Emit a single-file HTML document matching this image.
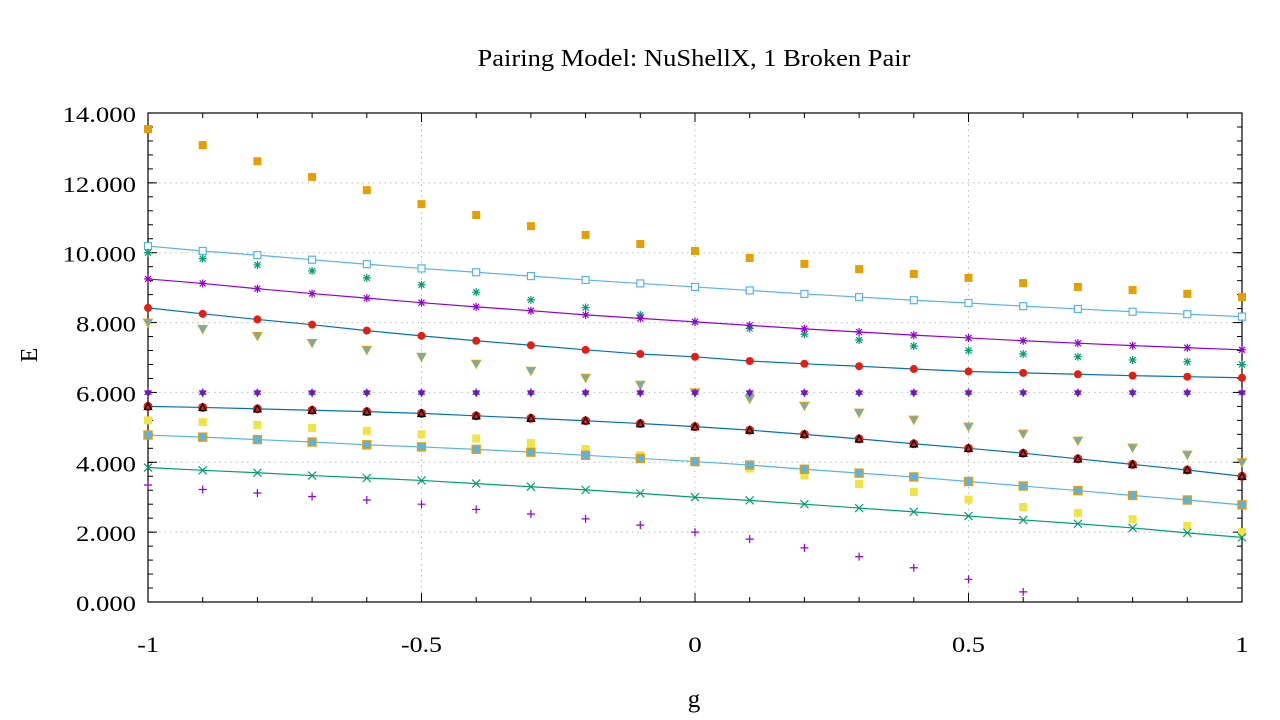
<!DOCTYPE html>
<html><head><meta charset="utf-8"><style>
body{margin:0;background:#fff}
svg{display:block;font-family:"Liberation Serif",serif}
</style></head><body>
<svg id="chart" width="1280" height="720" xmlns="http://www.w3.org/2000/svg">
<text x="694" y="66" text-anchor="middle" font-size="24" textLength="433" lengthAdjust="spacingAndGlyphs">Pairing Model: NuShellX, 1 Broken Pair</text>
<text transform="translate(37,355) rotate(-90)" text-anchor="middle" font-size="24">E</text>
<text x="694" y="707" text-anchor="middle" font-size="25">g</text>
<g id="grid"></g><g id="axes"></g><g id="series"></g>
</svg>
<script>
const gValues=[-1,-0.9,-0.8,-0.7,-0.6,-0.5,-0.4,-0.3,-0.2,-0.1,0,0.1,0.2,0.3,0.4,0.5,0.6,0.7,0.8,0.9,1];
const yTickLabels=["0.000","2.000","4.000","6.000","8.000","10.000","12.000","14.000"];
const xTickLabels=["-1","-0.5","0","0.5","1"];
const sOrangeSq=[13.54,13.08,12.62,12.17,11.79,11.39,11.08,10.76,10.51,10.25,10.05,9.85,9.68,9.53,9.39,9.28,9.13,9.02,8.93,8.82,8.73];
const sBlueOpen=[10.19,10.05,9.93,9.8,9.67,9.55,9.44,9.33,9.22,9.12,9.02,8.92,8.82,8.73,8.64,8.56,8.47,8.39,8.31,8.24,8.17];
const sGreenStar=[10.0,9.83,9.65,9.48,9.28,9.08,8.87,8.65,8.43,8.22,8.02,7.83,7.67,7.5,7.33,7.2,7.1,7.02,6.93,6.88,6.8];
const sPurpleStar=[9.25,9.12,8.97,8.83,8.70,8.57,8.45,8.34,8.22,8.12,8.02,7.92,7.82,7.73,7.64,7.56,7.48,7.41,7.34,7.28,7.22];
const sRedCircle=[8.42,8.25,8.09,7.94,7.77,7.62,7.48,7.35,7.22,7.1,7.02,6.9,6.82,6.75,6.67,6.6,6.56,6.52,6.48,6.45,6.42];
const sTriDown=[8.0,7.82,7.62,7.42,7.22,7.02,6.82,6.62,6.42,6.22,6.0,5.82,5.62,5.42,5.22,5.02,4.82,4.62,4.42,4.22,4.0];
const sConst6=[6,6,6,6,6,6,6,6,6,6,6,6,6,6,6,6,6,6,6,6,6];
const sRedTri=[5.6,5.57,5.53,5.49,5.45,5.4,5.33,5.26,5.19,5.11,5.02,4.92,4.8,4.67,4.53,4.4,4.26,4.1,3.94,3.78,3.6];
const sYellowSq=[5.2,5.15,5.07,4.98,4.9,4.8,4.68,4.55,4.38,4.2,4.0,3.82,3.62,3.38,3.15,2.93,2.72,2.55,2.37,2.18,2.0];
const sOrangeOpen=[4.78,4.72,4.65,4.58,4.5,4.44,4.37,4.29,4.2,4.11,4.02,3.92,3.8,3.69,3.58,3.45,3.32,3.19,3.05,2.92,2.78];
const sGreenX=[3.85,3.77,3.7,3.62,3.55,3.48,3.39,3.3,3.21,3.11,3.0,2.91,2.8,2.69,2.58,2.46,2.35,2.24,2.12,1.98,1.85];
const sPurplePlus=[3.35,3.22,3.12,3.02,2.92,2.8,2.65,2.52,2.38,2.2,2.0,1.8,1.55,1.3,0.98,0.65,0.29];

const NS="http://www.w3.org/2000/svg";
const L=148,R=1242,T=113,B=602,YMAX=14;
const xs=g=>L+(g+1)/2*(R-L);
const ys=v=>B-v/YMAX*(B-T);
function mk(tag,attrs,parent){const e=document.createElementNS(NS,tag);for(const k in attrs)e.setAttribute(k,attrs[k]);parent.appendChild(e);return e;}
function labW(s){let w=0;for(const c of s){w+=c==='.'?6:(c==='-'?8:13.5);}return w;}
const grid=document.getElementById('grid'),axes=document.getElementById('axes'),ser=document.getElementById('series');

yTickLabels.forEach((lab,i)=>{const v=parseFloat(lab);const y=ys(v);
 if(i>0&&i<yTickLabels.length-1){const gl=mk('line',{x1:L,x2:R,y1:y,y2:y,stroke:'#bbb','stroke-dasharray':'1.5,4'},grid);
 }
 const t=mk('text',{x:136,y:y+9,'text-anchor':'end','font-size':'22',textLength:labW(lab),lengthAdjust:'spacingAndGlyphs'},axes);t.textContent=lab;
 
 mk('line',{x1:L,x2:L+9,y1:y,y2:y,stroke:'#000'},axes);mk('line',{x1:R,x2:R-9,y1:y,y2:y,stroke:'#000'},axes);});
for(let v=0;v<=YMAX+0.001;v+=0.4){const y=ys(v);mk('line',{x1:L,x2:L+5,y1:y,y2:y,stroke:'#000'},axes);mk('line',{x1:R,x2:R-5,y1:y,y2:y,stroke:'#000'},axes);}
xTickLabels.forEach((lab,i)=>{const g=parseFloat(lab);const x=xs(g);
 if(i>0&&i<xTickLabels.length-1){const gl=mk('line',{x1:x,x2:x,y1:T,y2:B,stroke:'#bbb','stroke-dasharray':'1.5,4'},grid);
 }
 const t=mk('text',{x:x,y:652,'text-anchor':'middle','font-size':'22',textLength:labW(lab),lengthAdjust:'spacingAndGlyphs'},axes);t.textContent=lab;
 
 mk('line',{x1:x,x2:x,y1:B,y2:B-9,stroke:'#000'},axes);mk('line',{x1:x,x2:x,y1:T,y2:T+9,stroke:'#000'},axes);});
gValues.forEach(g=>{const x=xs(g);mk('line',{x1:x,x2:x,y1:B,y2:B-5,stroke:'#000'},axes);mk('line',{x1:x,x2:x,y1:T,y2:T+5,stroke:'#000'},axes);});
const fr=mk('rect',{x:L,y:T,width:R-L,height:B-T,fill:'none',stroke:'#000','stroke-width':'1.2'},axes);


function marker(type,x,y,c,g){
 const s=4;
 if(type==='sq')mk('rect',{x:x-4,y:y-4,width:8,height:8,fill:c},g);
 else if(type==='osq')mk('rect',{x:x-3.5,y:y-3.5,width:7,height:7,fill:'#fff',stroke:c,'stroke-width':'1.2'},g);
 else if(type==='osqf'){mk('rect',{x:x-4,y:y-4,width:8,height:8,fill:'#56b4e9',stroke:c,'stroke-width':'1.4'},g);}
 else if(type==='circ')mk('circle',{cx:x,cy:y,r:4,fill:c},g);
 else if(type==='rtri'){mk('circle',{cx:x,cy:y,r:4.5,fill:'#e51e10'},g);mk('path',{d:`M${x-3.5} ${y+3}L${x+3.5} ${y+3}L${x} ${y-3.5}Z`,fill:'none',stroke:'#000','stroke-width':'1.4'},g);}
 else if(type==='tdown'){mk('path',{d:`M${x-4.5} ${y-3.5}L${x+4.5} ${y-3.5}L${x} ${y+4.5}Z`,fill:'#56b4e9',stroke:'#e69f00','stroke-width':'1'},g);mk('circle',{cx:x,cy:y-0.5,r:2.5,fill:'#7aa'},g);}
 else if(type==='plus'){mk('path',{d:`M${x-s} ${y}H${x+s}M${x} ${y-s}V${y+s}`,stroke:c,'stroke-width':'1.2'},g);}
 else if(type==='x'){mk('path',{d:`M${x-s} ${y-s}L${x+s} ${y+s}M${x-s} ${y+s}L${x+s} ${y-s}`,stroke:c,'stroke-width':'1.2'},g);}
 else if(type==='star'){mk('path',{d:`M${x-s} ${y}H${x+s}M${x} ${y-s}V${y+s}M${x-3} ${y-3}L${x+3} ${y+3}M${x-3} ${y+3}L${x+3} ${y-3}`,stroke:c,'stroke-width':'1.2'},g);}
 else if(type==='six'){mk('path',{d:`M${x-4} ${y+2.5}L${x+4} ${y+2.5}L${x} ${y-4.5}Z`,fill:'#009e73'},g);mk('path',{d:`M${x-4} ${y-2}L${x+4} ${y-2}L${x} ${y+5}Z`,fill:'#9400d3'},g);}
}
function series(name,data,type,color,lineColor){
 const g=mk('g',{},ser);
 if(lineColor){const pts=data.map((v,i)=>xs(gValues[i])+','+ys(v)).join(' ');
  const pl=mk('polyline',{points:pts,fill:'none',stroke:lineColor,'stroke-width':'1.2'},g);
  }
 data.forEach((v,i)=>marker(type,xs(gValues[i]),ys(v),color,g));
}
series('series-orange-squares',sOrangeSq,'sq','#e69f00',null);
series('series-blue-open-squares',sBlueOpen,'osq','#56b4e9','#56b4e9');
series('series-green-asterisks',sGreenStar,'star','#009e73',null);
series('series-purple-asterisks',sPurpleStar,'star','#9400d3','#9400d3');
series('series-red-circles',sRedCircle,'circ','#e51e10','#0072b2');
series('series-down-triangles',sTriDown,'tdown','#e69f00',null);
series('series-constant-six',sConst6,'six','#9400d3',null);
series('series-red-triangles',sRedTri,'rtri','#000','#0072b2');
series('series-yellow-squares',sYellowSq,'sq','#f0e442',null);
series('series-orange-open-squares',sOrangeOpen,'osqf','#e69f00','#56b4e9');
series('series-green-crosses',sGreenX,'x','#009e73','#009e73');
series('series-purple-plus',sPurplePlus,'plus','#9400d3',null);
</script>
</body></html>
